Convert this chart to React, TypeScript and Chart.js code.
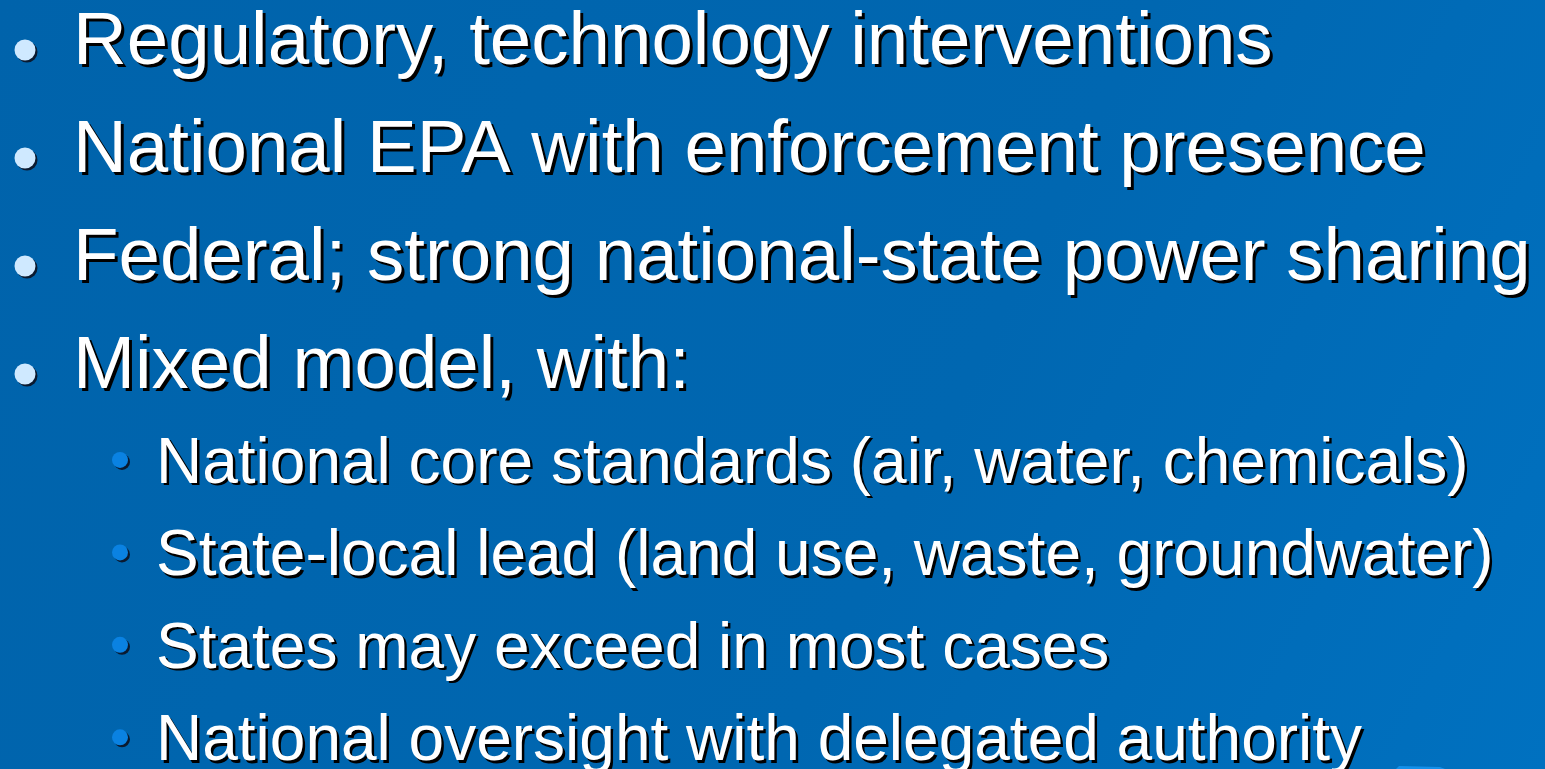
import React, { useEffect, useRef } from "react";
import { Chart, registerables } from "chart.js";

Chart.register(...registerables);

// ---- content ----
const bulletTexts: string[] = [
  "Regulatory, technology interventions",
  "National EPA with enforcement presence",
  "Federal; strong national-state power sharing",
  "Mixed model, with:",
  "National core standards (air, water, chemicals)",
  "State-local lead (land use, waste, groundwater)",
  "States may exceed in most cases",
  "National oversight with delegated authority",
];
const bulletLevels: number[] = [0, 0, 0, 0, 1, 1, 1, 1];

// ---- style ----
const W = 1545;
const H = 769;
const ROW_PX = 108; // px per row unit (level-0 line spacing)
const LEVEL_STEP = [1, 0.856]; // line spacing per level, in row units
const LEVEL_CHANGE_STEP = 0.796; // spacing when entering a deeper level
const X_UNIT = 95; // px per indent level
const X0 = 25; // px of level-0 bullet
const Y0 = 50; // px of first bullet

const levelStyle = [
  { font: "74.5px 'Liberation Sans', Arial, sans-serif", dx: 48, dy: 14, r: 10.5, color: "#cfe9ff", shadow: 3 },
  { font: "64px 'Liberation Sans', Arial, sans-serif", dx: 36, dy: 23, r: 8, color: "#0a82e2", shadow: 2.5 },
];

// rows computed from levels
const rowPos: number[] = [];
bulletLevels.forEach((lv, i) => {
  if (i === 0) rowPos.push(0);
  else {
    const prev = bulletLevels[i - 1];
    const step = lv > prev ? LEVEL_CHANGE_STEP : LEVEL_STEP[lv];
    rowPos.push(rowPos[i - 1] + step);
  }
});

const slidePlugin = {
  id: "slide",
  beforeDraw(chart: any) {
    const { ctx } = chart;
    ctx.save();
    const g = ctx.createLinearGradient(0, 0, W, H);
    g.addColorStop(0, "#0063ab");
    g.addColorStop(0.6, "#0067b1");
    g.addColorStop(1, "#0071c0");
    ctx.fillStyle = g;
    ctx.fillRect(0, 0, W, H);
    // small lighter decoration at bottom right
    ctx.fillStyle = "#1490ea";
    ctx.beginPath();
    ctx.moveTo(1396, H);
    ctx.lineTo(1399, 766);
    ctx.lineTo(1440, 767);
    ctx.lineTo(1445, H);
    ctx.closePath();
    ctx.fill();
    ctx.restore();
  },
  afterDatasetsDraw(chart: any) {
    const { ctx } = chart;
    chart.data.datasets.forEach((ds: any, di: number) => {
      const meta = chart.getDatasetMeta(di);
      meta.data.forEach((pt: any, j: number) => {
        const raw = ds.data[j];
        const st = levelStyle[raw.level];
        ctx.save();
        ctx.font = st.font;
        ctx.textBaseline = "alphabetic";
        ctx.textAlign = "left";
        ctx.fillStyle = "#000000";
        ctx.fillText(raw.text, pt.x + st.dx + st.shadow, pt.y + st.dy + st.shadow);
        ctx.fillStyle = "#ffffff";
        ctx.fillText(raw.text, pt.x + st.dx, pt.y + st.dy);
        ctx.restore();
      });
    });
  },
};

const shadowBulletPlugin = {
  id: "bulletShadow",
  beforeDatasetsDraw(chart: any) {
    const { ctx } = chart;
    chart.data.datasets.forEach((ds: any, di: number) => {
      const meta = chart.getDatasetMeta(di);
      meta.data.forEach((pt: any, j: number) => {
        const st = levelStyle[ds.data[j].level];
        ctx.save();
        ctx.fillStyle = "#0a1a30";
        ctx.beginPath();
        ctx.arc(pt.x + 2, pt.y + 2, st.r, 0, Math.PI * 2);
        ctx.fill();
        ctx.restore();
      });
    });
  },
};

export default function App() {
  const ref = useRef<HTMLCanvasElement>(null);
  useEffect(() => {
    if (!ref.current) return;
    const datasets = [0, 1].map((lv) => ({
      label: "level" + lv,
      data: bulletTexts
        .map((t, i) => ({ x: bulletLevels[i], y: rowPos[i], text: t, level: bulletLevels[i] }))
        .filter((d) => d.level === lv),
      pointRadius: levelStyle[lv].r,
      pointHoverRadius: levelStyle[lv].r,
      pointBackgroundColor: levelStyle[lv].color,
      pointBorderWidth: 0,
      borderWidth: 0,
      showLine: false,
    }));
    const xMin = -X0 / X_UNIT;
    const yMin = -Y0 / ROW_PX;
    const chart = new Chart(ref.current, {
      type: "scatter",
      data: { datasets },
      options: {
        responsive: false,
        animation: false,
        devicePixelRatio: 1,
        layout: { padding: 0, autoPadding: false },
        events: [],
        plugins: { legend: { display: false }, tooltip: { enabled: false } },
        scales: {
          x: { type: "linear", display: false, min: xMin, max: xMin + W / X_UNIT },
          y: { type: "linear", display: false, reverse: true, min: yMin, max: yMin + H / ROW_PX },
        },
      },
      plugins: [slidePlugin, shadowBulletPlugin],
    });
    return () => chart.destroy();
  }, []);
  return (
    <div style={{ position: "fixed", left: 0, top: 0, width: W, height: H, overflow: "hidden" }}>
      <canvas ref={ref} width={W} height={H} style={{ display: "block", width: W, height: H }} />
    </div>
  );
}
